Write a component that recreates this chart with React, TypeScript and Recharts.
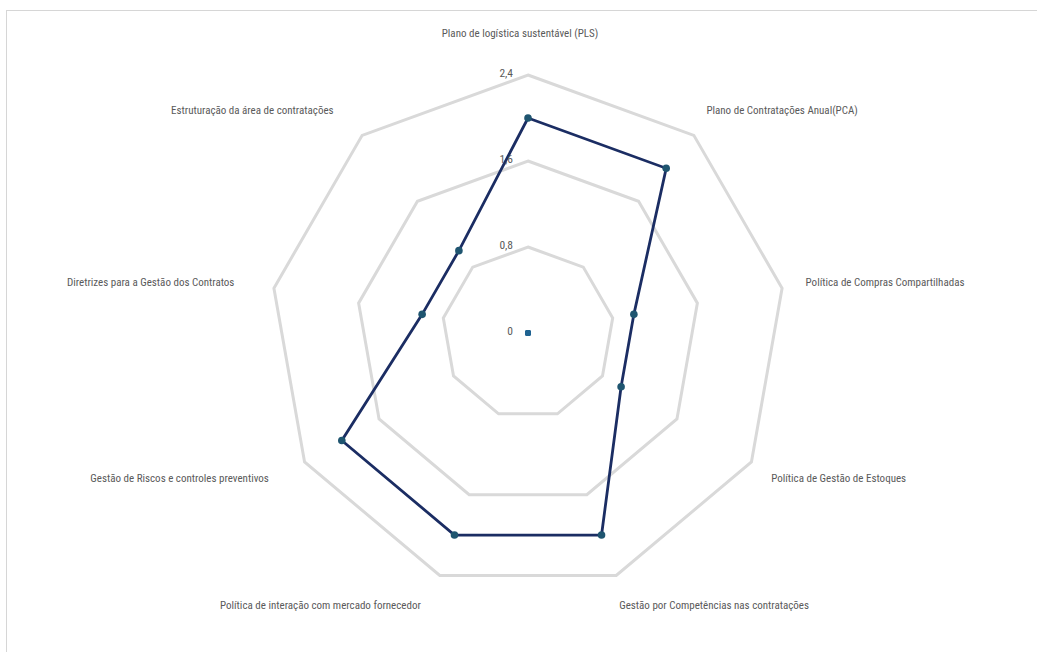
import { RadarChart, Radar, PolarGrid, PolarAngleAxis, PolarRadiusAxis } from 'recharts'

const categories = [
  'Plano de logística sustentável (PLS)',
  'Plano de Contratações Anual(PCA)',
  'Política de Compras Compartilhadas',
  'Política de Gestão de Estoques',
  'Gestão por Competências nas contratações',
  'Política de interação com mercado fornecedor',
  'Gestão de Riscos e controles preventivos',
  'Diretrizes para a Gestão dos Contratos',
  'Estruturação da área de contratações',
]
const scores = [2, 2, 1, 1, 2, 2, 2, 1, 1]
const baseline = [0, 0, 0, 0, 0, 0, 0, 0, 0]
const radiusTicks = [0, 0.8, 1.6, 2.4]

const data = categories.map((name, i) => ({ name, score: scores[i], base: baseline[i] }))

const CX = 528
const CY = 333
const OUTER = 258
const LABEL_R = 290
const LABEL_SHIFT = -8
const FONT = "'Liberation Sans Narrow', 'Arial Narrow', 'Roboto Condensed', Arial, sans-serif"

function AngleTick(props: any) {
  const { payload } = props
  const ang = (payload.coordinate * Math.PI) / 180
  const cos = Math.cos(-ang)
  const sin = Math.sin(-ang)
  const x = CX + LABEL_SHIFT + cos * LABEL_R
  let y = CY + sin * LABEL_R
  let anchor: 'start' | 'end' | 'middle' = 'middle'
  if (cos > 0.1) anchor = 'start'
  else if (cos < -0.1) anchor = 'end'
  if (Math.abs(cos) < 0.1 && sin < 0) y -= 10
  return (
    <text x={x} y={y} textAnchor={anchor} dominantBaseline="central" fontSize={11} fill="#5a5a5a" fontFamily={FONT}>
      {payload.value}
    </text>
  )
}

function RadiusTick(props: any) {
  const { y, payload } = props
  return (
    <text x={CX - 15} y={y - 2} textAnchor="end" dominantBaseline="central" fontSize={11.5} fill="#5a5a5a" fontFamily={FONT}>
      {String(payload.value).replace('.', ',')}
    </text>
  )
}

const scoreDot = (p: any) => <circle key={`s-${p.index}`} cx={p.cx} cy={p.cy} r={3.8} fill="#1f5570" />
const baseDot = (p: any) => <circle key={`b-${p.index}`} cx={p.cx} cy={p.cy} r={3} fill="#1f6391" />

export default function App() {
  return (
    <div style={{ position: 'absolute', left: 0, top: 0, width: 1037, height: 652, background: '#fff' }}>
      <div style={{ position: 'absolute', left: 6, top: 10, right: 0, bottom: 0, borderTop: '1px solid #d6d6d6', borderLeft: '1px solid #d6d6d6' }} />
      <RadarChart width={1037} height={652} data={data} cx={CX} cy={CY} outerRadius={OUTER} style={{ position: 'absolute', left: 0, top: 0 }}>
        <PolarGrid gridType="polygon" radialLines={false} stroke="#d9d9d9" strokeWidth={3} />
        <PolarAngleAxis dataKey="name" tick={<AngleTick />} tickLine={false} axisLine={false} />
        <PolarRadiusAxis angle={90} domain={[0, 2.4]} ticks={radiusTicks as any} tickCount={4} tick={<RadiusTick />} axisLine={false} tickLine={false} />
        <Radar dataKey="base" stroke="none" fill="none" isAnimationActive={false} dot={baseDot} />
        <Radar dataKey="score" stroke="#1b2d63" strokeWidth={2.8} fill="none" fillOpacity={0} isAnimationActive={false} dot={scoreDot} />
      </RadarChart>
    </div>
  )
}
